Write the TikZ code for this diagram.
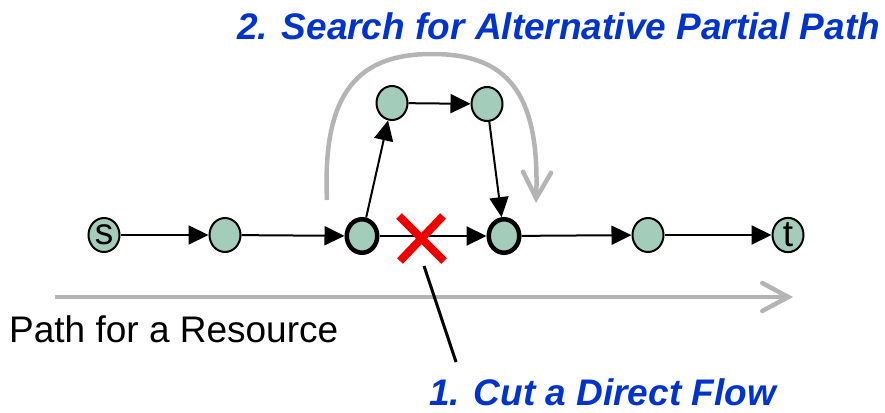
\documentclass[tikz,border=0pt]{standalone}
\usepackage{fontspec}
\setmainfont{Liberation Sans}
\usetikzlibrary{arrows.meta,shapes.geometric}
\definecolor{nodefill}{RGB}{163,204,187}
\definecolor{titleblue}{RGB}{0,51,204}
\definecolor{pathgray}{RGB}{180,180,180}
\definecolor{cutred}{RGB}{238,0,0}

\begin{document}
\begin{tikzpicture}[x=1pt,y=-1pt,
  vertex/.style={ellipse, draw=black, line width=2pt, fill=nodefill,
    minimum width=31pt, minimum height=34pt, inner sep=0pt,
    font=\fontsize{37}{40}\selectfont},
  pivot/.style={vertex, line width=4.5pt, minimum width=30.5pt, minimum height=33.5pt},
  flow/.style={line width=2pt, -{Triangle[length=20pt,width=19pt]}},
  grayarrow/.style={pathgray, line width=4.5pt,
    -{Straight Barb[length=26pt,width=28pt,line cap=round]}},
  bigtext/.style={inner sep=0pt, font=\fontsize{37}{40}\selectfont},
  callout/.style={bigtext, text=titleblue, font=\fontsize{37}{40}\selectfont\bfseries\itshape},
]
\useasboundingbox (0,0) rectangle (885,412);

% resource path (bottom row)
\node[vertex] (s)  at (104,235) {\raisebox{-2.5pt}{s}};
\node[vertex] (n2) at (225,235) {};
\node[pivot]  (n3) at (362,236) {};
\node[pivot]  (n4) at (504,236) {};
\node[vertex] (n5) at (648,235) {};
\node[vertex] (t)  at (788,235) {\raisebox{-1.5pt}{t}};

% detour nodes
\node[vertex] (a) at (392,103) {};
\node[vertex] (b) at (487,104) {};

% flows
\draw[flow] (s) -- (n2);
\draw[flow] (n2) -- (n3);
\draw[flow] (n3) -- (n4);
\draw[flow] (n4) -- (n5);
\draw[flow] (n5) -- (t);
\draw[flow] (n3) -- (a);
\draw[flow] (a) -- (b);
\draw[flow] (b) -- (n4);

% search arc
\coordinate (arcstart) at (327,200);
\coordinate (arcend) at (536,203);
\draw[grayarrow] (arcstart) .. controls (322,90) and (360,54) .. (432,54)
  .. controls (505,54) and (540,90) .. (arcend);

% direction of the resource path
\coordinate (pathstart) at (55,297);
\coordinate (pathend) at (793,297);
\draw[grayarrow] (pathstart) -- (pathend);

% cut mark
\draw[cutred, line width=8pt] (399,216) -- (444,261) (443,216) -- (400,261);
\coordinate (cuttip) at (424,266);
\coordinate (cutfoot) at (456,362);
\draw[line width=3pt] (cuttip) -- (cutfoot);

% labels
\node[callout, anchor=base west] (search) at (237,40) {2. Search for Alternative Partial Path};
\node[callout, anchor=base west] (cut) at (429,405) {1. Cut a Direct Flow};
\node[bigtext, anchor=base west] (res) at (9,342) {Path for a Resource};
\end{tikzpicture}
\end{document}
